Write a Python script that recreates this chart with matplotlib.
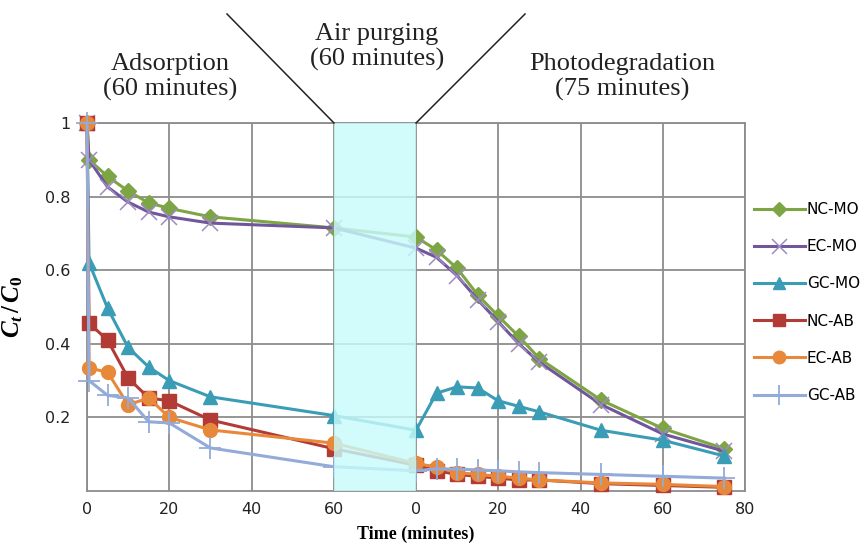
import matplotlib
matplotlib.use("Agg")
import matplotlib.pyplot as plt
from matplotlib.lines import Line2D
import numpy as np

plt.rcParams["mathtext.fontset"] = "custom"
plt.rcParams["mathtext.it"] = "Liberation Serif:italic:bold"
plt.rcParams["mathtext.rm"] = "Liberation Serif:bold"

# sampling times (minutes)
t_ads = [0, 0.5, 5, 10, 15, 20, 30, 60]
t_photo = [0, 5, 10, 15, 20, 25, 30, 45, 60, 75]

# C/C0 during adsorption in the dark
nc_mo_ads = [1.0, 0.90, 0.855, 0.815, 0.783, 0.768, 0.745, 0.715]
ec_mo_ads = [1.0, 0.90, 0.826, 0.785, 0.758, 0.745, 0.728, 0.715]
gc_mo_ads = [1.0, 0.62, 0.497, 0.39, 0.337, 0.30, 0.256, 0.205]
nc_ab_ads = [1.0, 0.456, 0.41, 0.307, 0.253, 0.245, 0.193, 0.115]
ec_ab_ads = [1.0, 0.334, 0.323, 0.234, 0.253, 0.20, 0.166, 0.13]
gc_ab_ads = [1.0, 0.30, 0.26, 0.253, 0.188, 0.185, 0.117, 0.066]

# C/C0 under irradiation
nc_mo_photo = [0.69, 0.655, 0.605, 0.533, 0.475, 0.42, 0.36, 0.247, 0.17, 0.115]
ec_mo_photo = [0.66, 0.635, 0.585, 0.52, 0.46, 0.40, 0.35, 0.235, 0.155, 0.108]
gc_mo_photo = [0.165, 0.266, 0.283, 0.28, 0.245, 0.23, 0.215, 0.165, 0.138, 0.095]
nc_ab_photo = [0.07, 0.055, 0.045, 0.04, 0.035, 0.03, 0.03, 0.02, 0.015, 0.01]
ec_ab_photo = [0.075, 0.065, 0.05, 0.045, 0.04, 0.035, 0.03, 0.022, 0.018, 0.012]
gc_ab_photo = [0.055, 0.06, 0.06, 0.057, 0.055, 0.052, 0.05, 0.045, 0.04, 0.035]

labels = ["NC-MO", "EC-MO", "GC-MO", "NC-AB", "EC-AB", "GC-AB"]
ads = [nc_mo_ads, ec_mo_ads, gc_mo_ads, nc_ab_ads, ec_ab_ads, gc_ab_ads]
photo = [nc_mo_photo, ec_mo_photo, gc_mo_photo, nc_ab_photo, ec_ab_photo, gc_ab_photo]

purge_len = 20          # width of the air purging gap on the axis
x_ticks = [0, 20, 40, 60, 80, 100, 120, 140, 160]
x_ticklabels = ["0", "20", "40", "60", "0", "20", "40", "60", "80"]
y_ticks = [0.2, 0.4, 0.6, 0.8, 1.0]
y_ticklabels = ["0.2", "0.4", "0.6", "0.8", "1"]

styles = [
    dict(color="#7DA544", marker="D", ms=8, mfc="#7DA544", mec="#7DA544", mew=1),
    dict(color="#71569B", marker="x", ms=12, mfc="none", mec="#9F8BC4", mew=1.1),
    dict(color="#3A9DB5", marker="^", ms=10, mfc="#3A9DB5", mec="#3A9DB5", mew=1),
    dict(color="#B23B36", marker="s", ms=10, mfc="#B23B36", mec="#B23B36", mew=1),
    dict(color="#E8883A", marker="o", ms=10, mfc="#E8883A", mec="#E8883A", mew=1),
    dict(color="#93ABD8", marker="+", ms=16, mfc="none", mec="#93ABD8", mew=1.3),
]

fig = plt.figure(figsize=(8.65, 5.49), dpi=100)
ax = fig.add_axes([87 / 865, 1 - 491 / 549, 658 / 865, 368 / 549])

offset = t_ads[-1] + purge_len
for lab, ya, yp, st in zip(labels, ads, photo, styles):
    xs = list(t_ads) + [t + offset for t in t_photo]
    ys = list(ya) + list(yp)
    ax.plot(xs, ys, lw=2.2, zorder=3, label=lab, clip_on=False, **st)

# air purging window drawn over the curves
ax.axvspan(t_ads[-1], offset, facecolor="#C8FBFB", alpha=0.82, lw=0, zorder=4)

ax.set_xlim(0, 160)
ax.set_ylim(0, 1)
ax.set_xticks(x_ticks)
ax.set_xticklabels(x_ticklabels)
ax.set_yticks(y_ticks)
ax.set_yticklabels(y_ticklabels)
ax.grid(True, color="#8C8C8C", lw=1.3, zorder=1)
ax.set_axisbelow(True)
for s in ax.spines.values():
    s.set_color("#8C8C8C")
    s.set_linewidth(1.3)
ax.tick_params(length=0, labelsize=11.5, labelcolor="#222222")
ax.tick_params(axis="x", pad=8)
ax.tick_params(axis="y", pad=12)
for t in ax.get_yticklabels() + ax.get_xticklabels():
    t.set_fontfamily("DejaVu Sans")

ax.set_xlabel("Time (minutes)", fontsize=13, fontweight="bold",
              family="Liberation Serif", labelpad=6)
ax.set_ylabel(r"$C_t\,/\,C_0$", fontsize=18)
ax.yaxis.set_label_coords(-0.094, 0.5)

# legend to the right of the plot
handles, _ = ax.get_legend_handles_labels()
leg = fig.legend(handles, labels, loc="upper left", bbox_to_anchor=(748 / 865, 1 - 196 / 549),
                 frameon=False, fontsize=11, labelspacing=1.45, handlelength=3.3,
                 handletextpad=0.15, borderaxespad=0)
for lh in leg.get_lines():
    lh.set_markersize(lh.get_markersize() * 0.9)

# phase labels and separators
serif = dict(family="Liberation Serif", fontsize=19, ha="center", va="center",
             color="#222222", linespacing=1.2)
fig.text(170 / 865, 1 - 77 / 549, "Adsorption\n(60 minutes)", **serif)
fig.text(377 / 865, 1 - 47 / 549, "Air purging\n(60 minutes)", **serif)
fig.text(622 / 865, 1 - 77 / 549, "Photodegradation\n(75 minutes)", **serif)
fig.add_artist(Line2D([227 / 865, 334 / 865], [1 - 14 / 549, 1 - 123 / 549],
                      color="#222222", lw=1.1, transform=fig.transFigure))
fig.add_artist(Line2D([525 / 865, 416 / 865], [1 - 14 / 549, 1 - 123 / 549],
                      color="#222222", lw=1.1, transform=fig.transFigure))

fig.savefig("out.png", dpi=100)
